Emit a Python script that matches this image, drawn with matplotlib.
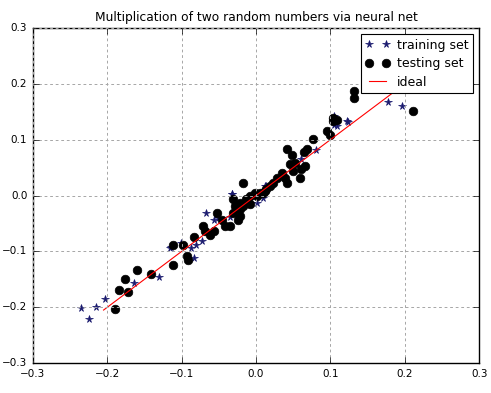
import numpy as np
import matplotlib
matplotlib.use("Agg")
import matplotlib.pyplot as plt

plt.style.use("classic")

# training set (stars)
train_x = [-0.236, -0.224, -0.215, -0.203, -0.164, -0.131, -0.114, -0.116, -0.101,
           -0.087, -0.084, -0.081, -0.073, -0.067, -0.057, -0.051, -0.035, -0.031,
           -0.033, -0.033, 0.001, 0.010, 0.012, 0.014, 0.061, 0.081, 0.105, 0.105,
           0.109, 0.122, 0.124, 0.178, 0.196]
train_y = [-0.201, -0.221, -0.199, -0.185, -0.157, -0.146, -0.092, -0.094, -0.085,
           -0.094, -0.112, -0.088, -0.082, -0.031, -0.043, -0.040, -0.038, -0.031,
           0.003, 0.002, -0.013, -0.004, 0.017, 0.017, 0.065, 0.081, 0.126, 0.143,
           0.124, 0.133, 0.131, 0.167, 0.160]

# testing set (circles)
test_x = [-0.189, -0.184, -0.172, -0.176, -0.160, -0.141, -0.111, -0.111, -0.098,
          -0.093, -0.092, -0.083, -0.071, -0.069, -0.062, -0.057, -0.053, -0.046,
          -0.042, -0.035, -0.031, -0.028, -0.024, -0.031, -0.022, -0.017, -0.013,
          -0.008, -0.001, 0.005, 0.012, -0.017, -0.022, -0.022, -0.008, 0.001,
          0.010, 0.014, 0.019, 0.023, 0.028, 0.035, 0.039, 0.041, 0.042, 0.046,
          0.048, 0.050, 0.052, 0.059, 0.061, 0.064, 0.066, 0.068, 0.076, 0.095,
          0.100, 0.104, 0.104, 0.109, 0.131, 0.132, 0.211]
test_y = [-0.203, -0.170, -0.173, -0.149, -0.133, -0.140, -0.124, -0.088, -0.088,
          -0.108, -0.115, -0.074, -0.055, -0.064, -0.070, -0.064, -0.031, -0.043,
          -0.055, -0.055, -0.031, -0.019, -0.043, -0.007, -0.013, -0.019, -0.007,
          -0.001, 0.005, 0.005, 0.008, 0.023, -0.025, -0.037, -0.016, -0.001,
          0.005, 0.011, 0.017, 0.023, 0.032, 0.041, 0.032, 0.023, 0.084, 0.056,
          0.072, 0.044, 0.059, 0.032, 0.048, 0.077, 0.053, 0.084, 0.102, 0.115,
          0.109, 0.133, 0.139, 0.136, 0.187, 0.175, 0.151]

# ideal y = x
ideal_x = [-0.205, 0.211]
ideal_y = [-0.205, 0.211]

fig = plt.figure(figsize=(4.91, 3.93), dpi=100)
fig.patch.set_facecolor("white")
ax = fig.add_axes([0.067, 0.076, 0.909, 0.853])

ax.plot(train_x, train_y, "*", color="#1a1a6e", markeredgecolor="#1a1a6e",
        markersize=5.5, label="training set")
ax.plot(test_x, test_y, "o", color="black", markersize=6.2, label="testing set")
ax.plot(ideal_x, ideal_y, "-", color="red", linewidth=0.8, label="ideal")

ax.set_xlim(-0.3, 0.3)
ax.set_ylim(-0.3, 0.3)
ax.set_xticks(np.arange(-0.3, 0.31, 0.1))
ax.set_yticks(np.arange(-0.3, 0.31, 0.1))
ax.tick_params(labelsize=7.5)
ax.grid(True, color="0.65", linestyle=(0, (2, 2)), linewidth=0.7)
ax.set_title("Multiplication of two random numbers via neural net", fontsize=8.8)

leg = ax.legend(loc="upper right", numpoints=2, fontsize=9, borderaxespad=0.5,
                handlelength=1.9, labelspacing=0.45, borderpad=0.35,
                handletextpad=0.6)
leg.get_frame().set_linewidth(0.8)

fig.savefig("out.png", dpi=100, facecolor="white")
